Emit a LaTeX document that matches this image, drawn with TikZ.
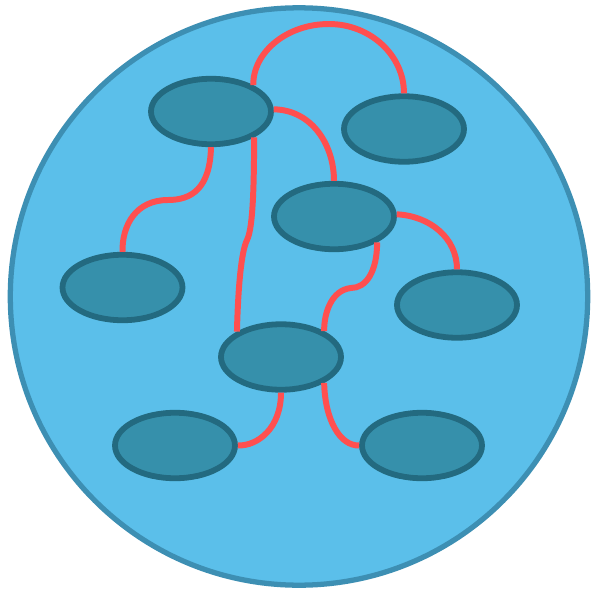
\documentclass[tikz,border=0pt]{standalone}
\usepackage{tikz}
\usetikzlibrary{shapes.geometric}
\definecolor{PoolBlue}{HTML}{5BBFEA}
\definecolor{PoolEdge}{HTML}{3D8FB3}
\definecolor{BlobFill}{HTML}{3690AB}
\definecolor{BlobEdge}{HTML}{236A80}
\definecolor{LinkRed}{HTML}{FF4F4F}

\begin{document}
\begin{tikzpicture}[
x=0.02cm,y=-0.02cm,
pool/.style={circle,draw=PoolEdge,fill=PoolBlue,line width=3pt,minimum size=11.55cm,inner sep=0pt},
blob/.style={ellipse,draw=BlobEdge,fill=BlobFill,line width=3.3pt,minimum width=2.4cm,minimum height=1.31cm,inner sep=0pt},
link/.style={draw=LinkRed,line width=3.4pt}
]
\useasboundingbox (0,0) rectangle (593,589);
\node[pool] (pool) at (299,296.5) {};
\node[blob] (a) at (211,111.5) {};
\node[blob] (b) at (404,129) {};
\node[blob] (c) at (334,216.5) {};
\node[blob] (d) at (122.5,287.5) {};
\node[blob] (e) at (457,305) {};
\node[blob] (f) at (281,357) {};
\node[blob] (g) at (175,445.5) {};
\node[blob] (h) at (422,445.5) {};
% links between the blobs
\draw[link] (a.32) .. controls (253,52) and (287,24) .. (329,24) .. controls (370,24) and (404,55) .. (b.90);
\draw[link] (a.2) .. controls (312,110) and (334,145) .. (c.90);
\draw[link] (a.270) .. controls (210,188) and (192,200) .. (168,200) .. controls (136,200) and (122,225) .. (d.90);
\draw[link] (a.-31) .. controls (254,200) and (252,230) .. (247,240) .. controls (241,252) and (238,290) .. (f.150);
\draw[link] (c.2) .. controls (430,216) and (457,238) .. (e.90);
\draw[link] (c.-31) .. controls (377,272) and (366,288) .. (351,288) .. controls (332,290) and (324,312) .. (f.31);
\draw[link] (f.270) .. controls (281,428) and (258,446) .. (g.0);
\draw[link] (f.-31) .. controls (325,420) and (340,446) .. (h.180);
\end{tikzpicture}
\end{document}
